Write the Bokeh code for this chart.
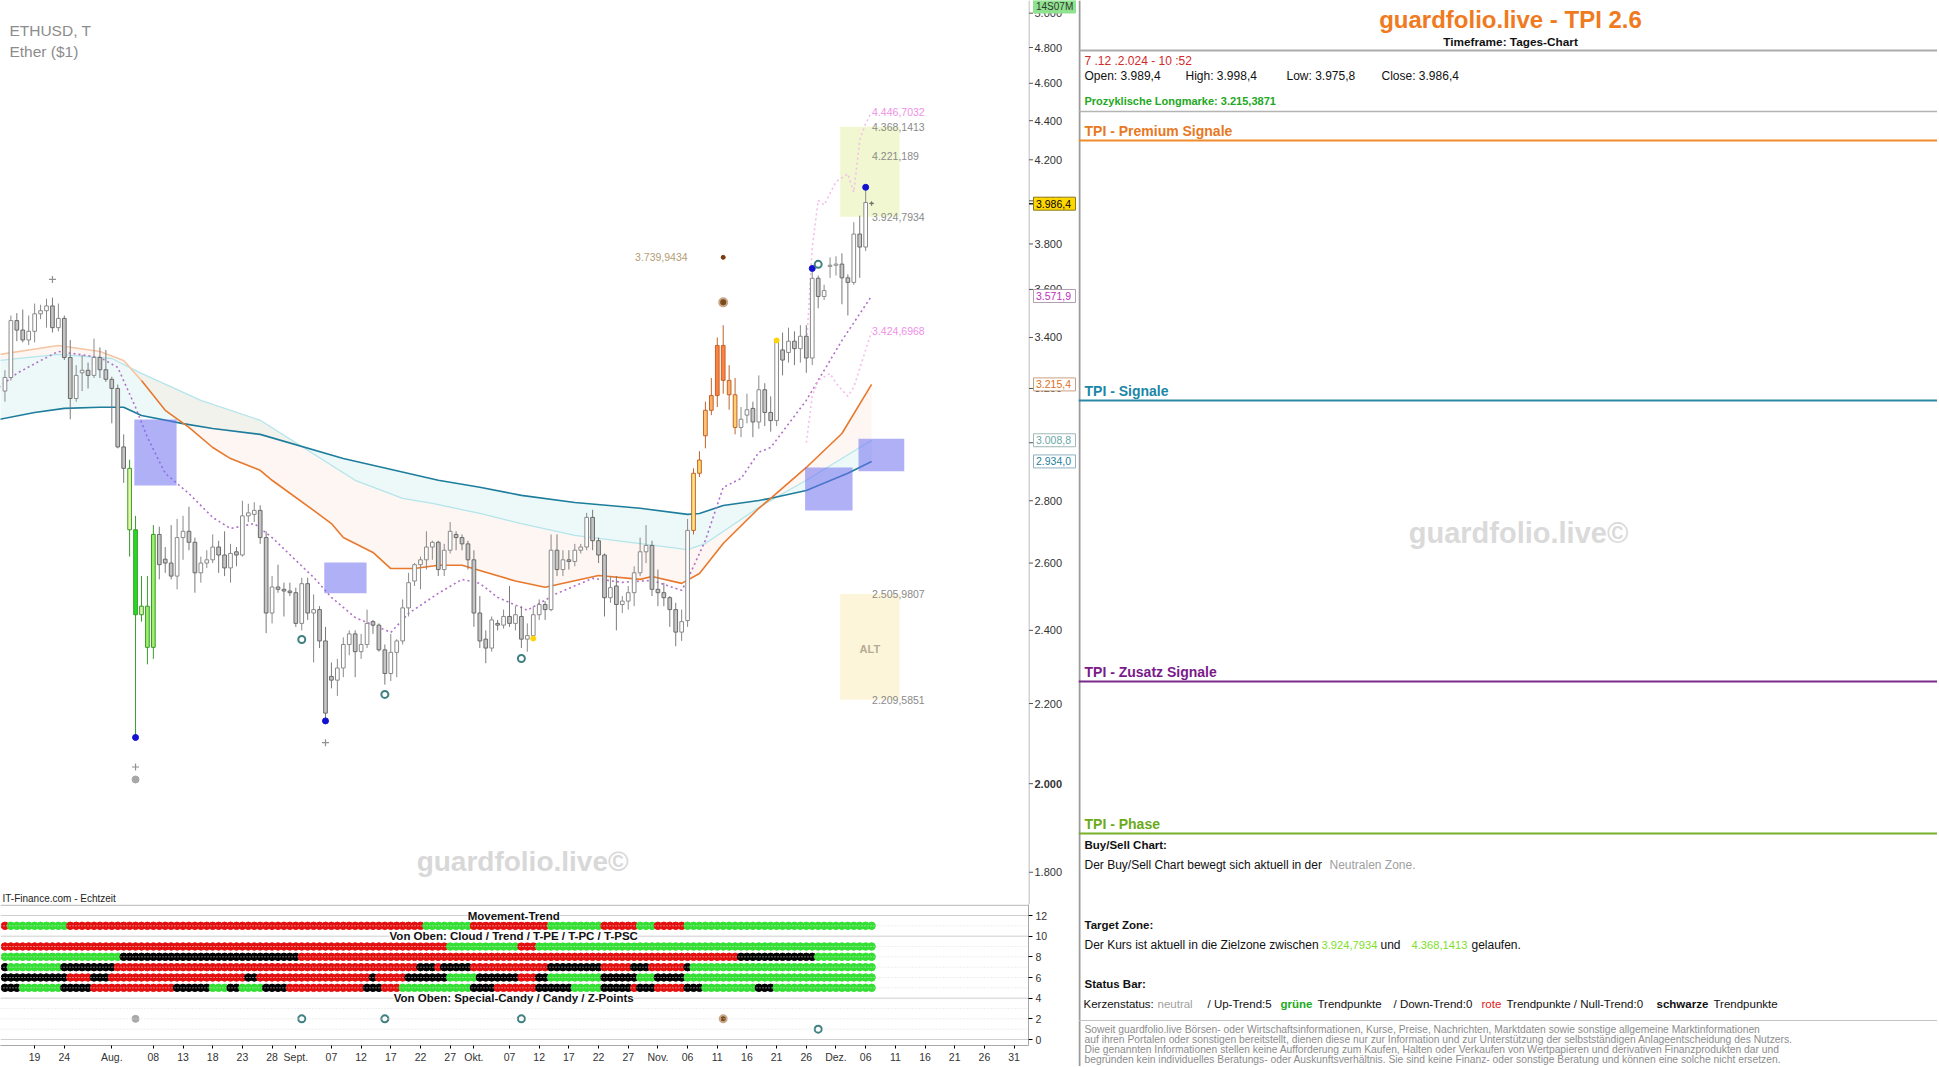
import numpy as np
import pandas as pd
from bokeh.plotting import figure
from bokeh.layouts import row, column
from bokeh.models import FixedTicker, Range1d, Label, Span, ColumnDataSource
from bokeh.core.properties import value
from bokeh.embed import file_html
from bokeh.resources import INLINE

FONT = "Liberation Sans"
DAY = 86400000.0

# ======================= DATA =======================
dates = pd.date_range("2024-07-14", "2024-12-07", freq="D")

opens = [3190, 3242, 3469, 3430, 3390, 3425, 3497, 3510, 3530, 3440,
         3478, 3320, 3162, 3260, 3270, 3250, 3320, 3272, 3235, 3200,
         2985, 2910, 2705, 2445, 2470, 2352, 2690, 2612, 2600, 2560,
         2680, 2700, 2665, 2570, 2600, 2610, 2650, 2625, 2585, 2635,
         2625, 2750, 2755, 2768, 2680, 2450, 2527, 2520, 2515, 2510,
         2420, 2537, 2450, 2460, 2370, 2272, 2262, 2295, 2360, 2390,
         2340, 2360, 2425, 2415, 2345, 2280, 2338, 2370, 2465, 2545,
         2595, 2610, 2650, 2665, 2580, 2640, 2690, 2680, 2660, 2610,
         2450, 2375, 2350, 2420, 2415, 2440, 2420, 2440, 2375, 2385,
         2445, 2475, 2460, 2640, 2580, 2610, 2605, 2640, 2650, 2745,
         2670, 2625, 2495, 2530, 2475, 2485, 2510, 2570, 2635, 2655,
         2520, 2510, 2495, 2460, 2395, 2428, 2703, 2893, 3025, 3118,
         3173, 3368, 3231, 3176, 3055, 3100, 3125, 3075, 3195, 3110,
         3080, 3350, 3340, 3385, 3355, 3405, 3318, 3648, 3570, 3700,
         3705, 3710, 3650, 3630, 3845, 3786, 3989.4]
highs = [3270, 3490, 3500, 3515, 3490, 3540, 3535, 3560, 3565, 3540,
         3490, 3390, 3290, 3330, 3300, 3395, 3360, 3350, 3245, 3215,
         3030, 2940, 2750, 2560, 2560, 2720, 2715, 2650, 2720, 2740,
         2750, 2780, 2680, 2620, 2640, 2690, 2670, 2700, 2660, 2650,
         2800, 2790, 2795, 2785, 2700, 2560, 2595, 2540, 2540, 2525,
         2555, 2555, 2505, 2470, 2410, 2310, 2320, 2380, 2400, 2400,
         2390, 2460, 2430, 2420, 2360, 2390, 2375, 2490, 2570, 2600,
         2620, 2700, 2670, 2670, 2660, 2730, 2700, 2690, 2670, 2640,
         2500, 2400, 2440, 2430, 2460, 2530, 2470, 2470, 2420, 2470,
         2490, 2485, 2690, 2690, 2640, 2640, 2660, 2660, 2760, 2770,
         2680, 2630, 2560, 2560, 2500, 2530, 2590, 2680, 2720, 2670,
         2580, 2540, 2500, 2480, 2460, 2740, 2910, 2970, 3150, 3240,
         3400, 3450, 3290, 3240, 3130, 3180, 3150, 3250, 3220, 3170,
         3390, 3420, 3440, 3425, 3450, 3450, 3690, 3660, 3620, 3740,
         3745, 3758, 3665, 3900, 3930, 4065, 3998.4]
lows = [3150, 3230, 3385, 3380, 3370, 3380, 3475, 3440, 3420, 3425,
        3310, 3085, 3150, 3190, 3200, 3240, 3240, 3225, 3070, 2980,
        2860, 2620, 2113, 2425, 2305, 2320, 2550, 2570, 2550, 2520,
        2610, 2640, 2510, 2540, 2585, 2600, 2570, 2560, 2540, 2590,
        2620, 2730, 2730, 2660, 2392, 2420, 2510, 2440, 2500, 2410,
        2400, 2430, 2310, 2350, 2155, 2240, 2220, 2270, 2330, 2270,
        2320, 2350, 2390, 2340, 2250, 2260, 2270, 2360, 2440, 2530,
        2520, 2580, 2610, 2560, 2560, 2630, 2640, 2640, 2580, 2410,
        2350, 2308, 2340, 2400, 2405, 2410, 2400, 2350, 2340, 2370,
        2430, 2430, 2455, 2560, 2560, 2580, 2590, 2630, 2640, 2640,
        2600, 2440, 2480, 2400, 2450, 2460, 2470, 2560, 2600, 2500,
        2470, 2470, 2410, 2355, 2370, 2410, 2690, 2880, 2980, 3100,
        3130, 3180, 3120, 3030, 3020, 3070, 3020, 3050, 3060, 3040,
        3060, 3250, 3300, 3290, 3300, 3260, 3290, 3520, 3555, 3650,
        3660, 3537, 3490, 3620, 3650, 3768, 3975.8]
closes = [3242, 3469, 3430, 3390, 3425, 3497, 3510, 3530, 3440, 3478,
          3320, 3162, 3250, 3270, 3250, 3320, 3272, 3235, 3200, 2985,
          2910, 2705, 2445, 2470, 2352, 2690, 2595, 2600, 2560, 2680,
          2700, 2665, 2570, 2600, 2610, 2650, 2625, 2585, 2630, 2625,
          2750, 2760, 2768, 2680, 2450, 2527, 2520, 2515, 2510, 2420,
          2537, 2450, 2460, 2370, 2175, 2262, 2295, 2360, 2390, 2340,
          2360, 2420, 2415, 2345, 2280, 2338, 2370, 2465, 2540, 2595,
          2610, 2650, 2665, 2580, 2640, 2700, 2680, 2660, 2610, 2450,
          2370, 2350, 2430, 2415, 2440, 2420, 2445, 2375, 2385, 2445,
          2475, 2460, 2640, 2580, 2610, 2605, 2640, 2650, 2745, 2670,
          2625, 2495, 2525, 2475, 2485, 2510, 2570, 2635, 2655, 2520,
          2510, 2495, 2460, 2395, 2425, 2703, 2893, 2939, 3118, 3173,
          3368, 3231, 3176, 3055, 3085, 3120, 3075, 3195, 3110, 3080,
          3385, 3310, 3385, 3355, 3405, 3318, 3648, 3570, 3595, 3705,
          3710, 3650, 3630, 3845, 3786, 3992, 3986.4]

# moving-average / cloud lines
teal_dates = ["2024-07-13", "2024-07-19", "2024-07-24", "2024-07-30", "2024-08-03", "2024-08-06",
              "2024-08-13", "2024-08-18", "2024-08-26", "2024-09-09", "2024-09-25", "2024-10-02",
              "2024-10-09", "2024-10-18", "2024-10-29", "2024-11-06", "2024-11-08", "2024-11-12",
              "2024-11-18", "2024-11-20", "2024-11-26", "2024-12-03", "2024-12-07"]
teal_vals = [3084, 3110, 3125, 3129, 3129, 3099, 3069, 3051, 3030, 2944, 2869, 2845,
             2818, 2794, 2775, 2755, 2758, 2784, 2801, 2808, 2834, 2893, 2934.0]

orange_dates = ["2024-07-13", "2024-07-23", "2024-07-30", "2024-08-03", "2024-08-06", "2024-08-10",
                "2024-08-14", "2024-08-18", "2024-08-21", "2024-08-26", "2024-08-28", "2024-09-04",
                "2024-09-07", "2024-09-09", "2024-09-14", "2024-09-17", "2024-09-21", "2024-09-25",
                "2024-09-29", "2024-10-02", "2024-10-08", "2024-10-13", "2024-10-22", "2024-10-29",
                "2024-10-31", "2024-11-05", "2024-11-08", "2024-11-12", "2024-11-18", "2024-11-20",
                "2024-11-26", "2024-12-02", "2024-12-07"]
orange_vals = [3332, 3368, 3344, 3308, 3230, 3118, 3055, 2983, 2944, 2903, 2869, 2768,
               2725, 2680, 2633, 2583, 2583, 2593, 2593, 2577, 2545, 2526, 2562, 2550,
               2559, 2538, 2568, 2661, 2775, 2808, 2913, 3033, 3215.4]

cyan_dates = ["2024-07-13", "2024-07-23", "2024-08-01", "2024-08-06", "2024-08-16", "2024-08-26",
              "2024-09-11", "2024-09-19", "2024-09-24", "2024-10-02", "2024-10-09", "2024-10-18",
              "2024-10-29", "2024-11-06", "2024-11-09", "2024-11-18", "2024-11-26", "2024-12-07"]
cyan_vals = [3308, 3332, 3316, 3258, 3155, 3081, 2869, 2808, 2791, 2758, 2725, 2687,
             2661, 2642, 2661, 2778, 2869, 3008.8]

trail_dates = ["2024-07-13", "2024-07-16", "2024-07-20", "2024-07-23", "2024-07-30", "2024-08-02",
               "2024-08-05", "2024-08-07", "2024-08-10", "2024-08-14", "2024-08-18", "2024-08-21",
               "2024-08-25", "2024-08-28", "2024-09-04", "2024-09-07", "2024-09-11", "2024-09-17",
               "2024-09-20", "2024-09-25", "2024-09-29", "2024-10-02", "2024-10-05", "2024-10-09",
               "2024-10-10", "2024-10-15", "2024-10-21", "2024-10-26", "2024-10-31", "2024-11-05",
               "2024-11-06", "2024-11-09", "2024-11-12", "2024-11-15", "2024-11-18", "2024-11-20",
               "2024-11-26", "2024-12-02", "2024-12-07"]
trail_vals = [3204, 3258, 3308, 3344, 3320, 3281, 3129, 3019, 2893, 2824, 2745, 2709,
              2725, 2680, 2556, 2496, 2437, 2394, 2449, 2508, 2550, 2538, 2496, 2466,
              2458, 2508, 2553, 2541, 2547, 2517, 2550, 2671, 2845, 2875, 2966, 2983,
              3155, 3388, 3571.9]

pink_up_dates = ["2024-11-26", "2024-11-27", "2024-11-28", "2024-11-29", "2024-12-01",
                 "2024-12-03", "2024-12-04", "2024-12-05", "2024-12-06", "2024-12-07"]
pink_up_vals = [3350, 3784, 4002, 3980, 4092, 4130, 4041, 4300, 4385, 4446.7032]
pink_lo_dates = ["2024-11-26", "2024-11-27", "2024-11-28", "2024-11-30", "2024-12-01",
                 "2024-12-03", "2024-12-04", "2024-12-07"]
pink_lo_vals = [3000, 3170, 3230, 3258, 3220, 3170, 3205, 3424.6968]

# signal boxes (purple)
box_left = ["2024-08-04 19:00", "2024-09-05 19:00", "2024-11-25 19:00", "2024-12-04 19:00"]
box_right = ["2024-08-11 22:00", "2024-09-12 22:00", "2024-12-03 19:00", "2024-12-12 12:00"]
box_low = [2851, 2508, 2768, 2900]
box_high = [3084, 2602, 2913, 3014]

# target zone and ALT zone
zone_left = ["2024-12-01 17:00", "2024-12-01 17:00"]
zone_right = ["2024-12-11 17:00", "2024-12-11 17:00"]
zone_low = [3924.7934, 2209.5851]
zone_high = [4368.1413, 2505.9807]

level_vals = [4446.7032, 4368.1413, 4221.189, 3924.7934, 3424.6968, 2505.9807, 2209.5851]
level_text = ["4.446,7032", "4.368,1413", "4.221,189", "3.924,7934", "3.424,6968", "2.505,9807", "2.209,5851"]
level_kind = ["pink", "gray", "gray", "gray", "pink", "gray", "gray"]

# markers
blue_dates = ["2024-08-05", "2024-09-06", "2024-11-27", "2024-12-06"]
blue_vals = [2113, 2155, 3691, 4065]
ring_dates = ["2024-09-02", "2024-09-16", "2024-10-09", "2024-11-28"]
ring_vals = [2374, 2224, 2321, 3709]
cross_dates = ["2024-07-22", "2024-08-05", "2024-09-06"]
cross_vals = [3643, 2040, 2100]
gray_dot_dates = ["2024-08-05"]
gray_dot_vals = [2010]
yellow_dates = ["2024-10-11", "2024-11-21"]
yellow_vals = [2377, 3388]
brown_small = ("2024-11-12", 3739.9434)
brown_big = ("2024-11-12", 3545)

# axis price tags
tag_vals = [3986.4, 3571.9, 3215.4, 3008.8, 2934.0]
tag_text = ["3.986,4", "3.571,9", "3.215,4", "3.008,8", "2.934,0"]

price_ticks = [1800, 2000, 2200, 2400, 2600, 2800, 3000, 3200, 3400, 3600, 3800,
               4000, 4200, 4400, 4600, 4800, 5000]
price_tick_labels = ["1.800", "2.000", "2.200", "2.400", "2.600", "2.800", "3.000", "3.200",
                     "3.400", "3.600", "3.800", "4.000", "4.200", "4.400", "4.600", "4.800", "5.000"]

x_tick_dates = ["2024-07-19", "2024-07-24", "2024-08-01", "2024-08-08", "2024-08-13", "2024-08-18",
                "2024-08-23", "2024-08-28", "2024-09-01", "2024-09-07", "2024-09-12", "2024-09-17",
                "2024-09-22", "2024-09-27", "2024-10-01", "2024-10-07", "2024-10-12", "2024-10-17",
                "2024-10-22", "2024-10-27", "2024-11-01", "2024-11-06", "2024-11-11", "2024-11-16",
                "2024-11-21", "2024-11-26", "2024-12-01", "2024-12-06", "2024-12-11", "2024-12-16",
                "2024-12-21", "2024-12-26", "2024-12-31"]
x_tick_labels = ["19", "24", "Aug.", "08", "13", "18", "23", "28", "Sept.", "07", "12", "17", "22",
                 "27", "Okt.", "07", "12", "17", "22", "27", "Nov.", "06", "11", "16", "21", "26",
                 "Dez.", "06", "11", "16", "21", "26", "31"]

# indicator rows (run lengths of daily states, Jul 14 - Dec 7): r=red, g=green, k=black
movement_runs = [("r", 1), ("g", 10), ("r", 60), ("g", 8), ("r", 13), ("g", 9), ("r", 6), ("g", 3), ("r", 5), ("g", 32)]
cloud_runs = [("r", 75), ("g", 12), ("r", 3), ("g", 57)]
trend_runs = [("g", 20), ("k", 30), ("r", 74), ("k", 13), ("g", 10)]
tpe_runs = [("k", 1), ("g", 9), ("k", 9), ("r", 51), ("k", 3), ("r", 1), ("k", 5), ("r", 13), ("k", 9),
            ("r", 5), ("k", 3), ("r", 6), ("k", 1), ("g", 31)]
tpc_runs = [("k", 11), ("r", 4), ("k", 3), ("r", 23), ("k", 2), ("r", 19), ("k", 1), ("r", 5), ("k", 7),
            ("g", 5), ("k", 7), ("r", 3), ("k", 2), ("g", 9), ("k", 6), ("g", 3), ("k", 5), ("g", 32)]
tpsc_runs = [("k", 3), ("g", 7), ("k", 5), ("r", 14), ("k", 6), ("g", 3), ("k", 2), ("g", 4), ("k", 4),
             ("r", 13), ("k", 3), ("r", 3), ("g", 12), ("k", 4), ("r", 7), ("k", 6), ("g", 5), ("k", 5),
             ("r", 1), ("k", 3), ("r", 5), ("k", 3), ("g", 9), ("k", 3), ("g", 17)]
row_levels = [11, 9, 8, 7, 6, 5]

zpoint_dates = ["2024-08-05", "2024-09-02", "2024-09-16", "2024-10-09", "2024-11-12", "2024-11-28"]
zpoint_levels = [2, 2, 2, 2, 2, 1]
zpoint_kind = ["gray", "ring", "ring", "ring", "brown", "ring"]
ind_ticks = [0, 2, 4, 6, 8, 10, 12]

# ======================= STYLE / BUILD =======================
def T(s):
    return pd.Timestamp(s)

def ms(s):
    return pd.Timestamp(s).value / 1e6

X0, X1 = T("2024-07-13 06:00"), T("2025-01-02 10:20")
YLO, YHI = 1732.3, 5076.0

def base_fig(**kw):
    p = figure(output_backend="svg", toolbar_location=None, min_border=0, **kw)
    p.outline_line_color = None
    p.background_fill_color = "white"
    p.border_fill_color = "white"
    p.xgrid.visible = False
    p.ygrid.visible = False
    return p

price = base_fig(x_axis_type="datetime", y_axis_type="log", x_range=Range1d(X0, X1),
                 y_range=Range1d(YLO, YHI), frame_width=1028, frame_height=904,
                 x_axis_location=None, y_axis_location=None)

# cloud fills
cd, td, od = list(pd.to_datetime(cyan_dates)), list(pd.to_datetime(teal_dates)), list(pd.to_datetime(orange_dates))
price.patch(cd + td[::-1], cyan_vals + teal_vals[::-1], fill_color="#dcf3f1", fill_alpha=0.5, line_color=None)
price.patch(cd + od[::-1], cyan_vals + orange_vals[::-1], fill_color="#fbe2d6", fill_alpha=0.32, line_color=None)

# zones
price.quad(left=pd.to_datetime(zone_left[:1]), right=pd.to_datetime(zone_right[:1]),
           bottom=zone_low[:1], top=zone_high[:1], fill_color="#eef7c9", fill_alpha=0.85, line_color=None)
price.quad(left=pd.to_datetime(zone_left[1:]), right=pd.to_datetime(zone_right[1:]),
           bottom=zone_low[1:], top=zone_high[1:], fill_color="#fdf5da", line_color=None)

# lines
price.line(cd, cyan_vals, line_color="#b3e5ec", line_width=1.3)
price.line(td, teal_vals, line_color="#1d7d9c", line_width=1.6)
price.line(od[:5], orange_vals[:5], line_color="#f5c6a6", line_width=1.6)
price.line(od[4:], orange_vals[4:], line_color="#e8782c", line_width=1.6)
price.line(pd.to_datetime(trail_dates), trail_vals, line_color="#b070c8", line_width=1.6, line_dash="2 3")
price.line(pd.to_datetime(pink_up_dates), pink_up_vals, line_color="#f5bde9", line_width=1.6, line_dash="2 3")
price.line(pd.to_datetime(pink_lo_dates), pink_lo_vals, line_color="#f5bde9", line_width=1.6, line_dash="2 3")

# purple boxes
price.quad(left=pd.to_datetime(box_left), right=pd.to_datetime(box_right), bottom=box_low, top=box_high,
           fill_color="#6f6ff0", fill_alpha=0.55, line_color=None)

# candles
special_fill = {"2024-08-04": "#e4f7a8", "2024-08-05": "#22dd22", "2024-08-06": "#d8f5a8",
                "2024-08-07": "#9af06a", "2024-08-08": "#9af06a",
                "2024-11-07": "#ffe480", "2024-11-08": "#ffd870", "2024-11-09": "#ffc478",
                "2024-11-10": "#ffb068", "2024-11-11": "#ff8040", "2024-11-12": "#ff8040",
                "2024-11-13": "#ffb068", "2024-11-14": "#ffd070"}
fills, lines_c, wicks = [], [], []
for d, o, c in zip(dates, opens, closes):
    key = d.strftime("%Y-%m-%d")
    if key in special_fill:
        fills.append(special_fill[key])
        col = "#3a9a2a" if d.month == 8 else "#c0642a"
        lines_c.append(col)
        wicks.append(col)
    elif c >= o:
        fills.append("#ffffff"); lines_c.append("#8a8a8a"); wicks.append("#8a8a8a")
    else:
        fills.append("#c4c4c4"); lines_c.append("#6a6a6a"); wicks.append("#7a7a7a")
src = ColumnDataSource(dict(x=dates, o=opens, h=highs, l=lows, c=closes,
                            top=np.maximum(opens, closes), bot=np.minimum(opens, closes),
                            fill=fills, line=lines_c, wick=wicks))
price.segment(x0="x", y0="l", x1="x", y1="h", line_color="wick", line_width=1, source=src)
price.vbar(x="x", width=0.62 * DAY, top="top", bottom="bot", fill_color="fill", line_color="line",
           line_width=1, source=src)

# markers
price.scatter(pd.to_datetime(blue_dates), blue_vals, size=6, fill_color="#1212d0", line_color="#1212d0")
price.scatter(pd.to_datetime(ring_dates), ring_vals, size=7, fill_color=None, line_color="#3f8080", line_width=2)
price.scatter(pd.to_datetime(cross_dates), cross_vals, marker="cross", size=7, line_color="#909090", line_width=1.2)
price.scatter(pd.to_datetime(gray_dot_dates), gray_dot_vals, size=7, fill_color="#a8a8a8", line_color="#a8a8a8")
price.scatter(pd.to_datetime(yellow_dates), yellow_vals, size=5, fill_color="#ffd400", line_color="#ffd400")
price.scatter([T(brown_small[0])], [brown_small[1]], size=4, fill_color="#7a3a10", line_color="#7a3a10")
price.scatter([T(brown_big[0])], [brown_big[1]], size=8, fill_color="#7a4a1a", line_color="#c8a888", line_width=2)

# level labels
lev_colors = ["#ef8fe8" if k == "pink" else "#8a8a8a" for k in level_kind]
price.text([T("2024-12-07 02:00")] * len(level_vals), level_vals, text=level_text, text_color=lev_colors,
           text_font=value(FONT), text_font_size="10.5px", text_baseline="middle", text_align="left")
price.text([T("2024-11-06 00:00")], [brown_small[1]], text=["3.739,9434"], text_color="#b39c76",
           text_font=value(FONT), text_font_size="10.5px", text_baseline="middle", text_align="right")
price.text([T("2024-12-06 17:00")], [2348], text=["ALT"], text_color="#b5ab92", text_font=value(FONT),
           text_font_size="11px", text_font_style="bold", text_baseline="middle", text_align="center")

# chart texts
price.text([T("2024-07-14 18:00")], [4898], text=["ETHUSD, T"], text_color="#8c8c8c", text_font=value(FONT),
           text_font_size="15.5px", text_baseline="middle")
price.text([T("2024-07-14 18:00")], [4777], text=["Ether ($1)"], text_color="#8c8c8c", text_font=value(FONT),
           text_font_size="15.5px", text_baseline="middle")
price.text([T("2024-10-09 05:00")], [1824], text=["guardfolio.live\u00a9"], text_color="#d8d8d8",
           text_font=value(FONT), text_font_size="28px", text_font_style="bold", text_baseline="middle",
           text_align="center")
price.text([T("2024-07-13 14:00")], [1745], text=["IT-Finance.com - Echtzeit"], text_color="#222222",
           text_font=value(FONT), text_font_size="10px", text_baseline="middle")

# ---------------- price axis strip (shares the log y scale) ----------------
pax = base_fig(y_axis_type="log", x_range=Range1d(0, 50), y_range=price.y_range,
               frame_width=50, frame_height=904, x_axis_location=None, y_axis_location=None)
n = len(price_ticks)
pax.segment(x0=[0.5], y0=[YLO], x1=[0.5], y1=[YHI], line_color="#a8a8a8", line_width=1)
pax.segment(x0=[0.5] * n, y0=price_ticks, x1=[4.5] * n, y1=price_ticks, line_color="#555555", line_width=1)
pax.text([6] * n, price_ticks, text=price_tick_labels, text_font=value(FONT), text_font_size="11px",
         text_color="#333333", text_baseline="middle",
         text_font_style=["bold" if t == 2000 else "normal" for t in price_ticks])
tag_colors = ["#000000", "#c030c0", "#e07020", "#6aa6a6", "#1f7fa0"]
tag_bg = ["#ffd700", "#ffffff", "#ffffff", "#ffffff", "#ffffff"]
tag_border = ["#8a7a20", "#b0a0b0", "#c8a080", "#a0b8b8", "#90b0c0"]
pax.segment(x0=[0.5], y0=[tag_vals[0]], x1=[5], y1=[tag_vals[0]], line_color="#222222", line_width=1.5)
pax.rect(x=[26] * len(tag_vals), y=tag_vals, width=42, height=13, height_units="screen",
         fill_color=tag_bg, line_color=tag_border, line_width=1)
pax.text([7.5] * len(tag_vals), tag_vals, text=tag_text, text_color=tag_colors, text_font=value(FONT),
         text_font_size="10.5px", text_baseline="middle")
pax.rect(x=[26], y=[5040], width=42, height=13, height_units="screen", fill_color="#8fe38f", line_color="#8fe38f")
pax.text([7.5], [5040], text=["14S07M"], text_color="#333333", text_font=value(FONT),
         text_font_size="10px", text_baseline="middle")

# ---------------- indicator panel ----------------
ind = base_fig(x_axis_type="datetime", x_range=price.x_range, y_range=Range1d(-0.58, 13.065),
               frame_width=1028, frame_height=141, y_axis_location="right", min_border_right=50)
ind.yaxis.ticker = FixedTicker(ticks=ind_ticks)
ind.yaxis.minor_tick_line_color = None
ind.yaxis.axis_line_color = "#a8a8a8"
ind.yaxis.major_tick_in = 0
ind.yaxis.major_tick_out = 4
ind.yaxis.major_label_standoff = 3
ind.yaxis.major_label_text_font = FONT
ind.yaxis.major_label_text_font_size = "10.5px"
ind.yaxis.major_label_text_color = "#333333"
xt = [ms(d) for d in x_tick_dates]
ind.xaxis.ticker = FixedTicker(ticks=xt)
ind.xaxis.major_label_overrides = {t: l for t, l in zip(xt, x_tick_labels)}
ind.xaxis.minor_tick_line_color = None
ind.xaxis.axis_line_color = "#a8a8a8"
ind.xaxis.major_tick_in = 0
ind.xaxis.major_tick_out = 3
ind.xaxis.major_label_standoff = 2
ind.xaxis.major_label_text_font = FONT
ind.xaxis.major_label_text_font_size = "10.5px"
ind.xaxis.major_label_text_color = "#333333"

ind.add_layout(Span(location=13.0, dimension="width", line_color="#a8a8a8", line_width=1))
for lv in [1, 2, 3, 5, 6, 7, 8, 9, 11]:
    ind.add_layout(Span(location=lv, dimension="width", line_color="#dedede", line_width=1, line_dash="1 2"))
for lv in [12, 10, 4, 0]:
    ind.add_layout(Span(location=lv, dimension="width", line_color="#cfcfcf", line_width=1))

state_color = {"r": "#e41010", "g": "#33e033", "k": "#000000"}
for runs, lv in zip([movement_runs, cloud_runs, trend_runs, tpe_runs, tpc_runs, tpsc_runs], row_levels):
    states = "".join(s * k for s, k in runs)
    cols = [state_color[s] for s in states]
    ind.scatter(dates[:len(states)], [lv] * len(states), size=7.5, fill_color=cols, line_color=cols)

for kind, fc, lc in [("gray", "#a8a8a8", "#a8a8a8"), ("ring", None, "#3f8080"), ("brown", "#7a4a1a", "#c8a888")]:
    xs = [T(d) for d, k in zip(zpoint_dates, zpoint_kind) if k == kind]
    ys = [l for l, k in zip(zpoint_levels, zpoint_kind) if k == kind]
    ind.scatter(xs, ys, size=7, fill_color=fc, line_color=lc, line_width=2 if kind != "gray" else 1)

mid = ms("2024-10-07 17:00")
for y, t in [(12, "Movement-Trend"), (10, "Von Oben: Cloud / Trend / T-PE / T-PC / T-PSC"),
             (4, "Von Oben: Special-Candy / Candy / Z-Points")]:
    ind.add_layout(Label(x=mid, y=y, text=t, text_font=FONT, text_font_size="11.5px", text_font_style="bold",
                         text_align="center", text_baseline="middle", text_color="#111111",
                         background_fill_color="white"))

# ---------------- right information panel ----------------
panel = base_fig(x_range=Range1d(1078, 1937), y_range=Range1d(1066, 0), frame_width=859, frame_height=1066,
                 x_axis_location=None, y_axis_location=None)

def ptxt(x, y, s, size="12px", color="#111111", bold=False, align="left"):
    panel.text([x], [y], text=[s], text_color=color, text_font=value(FONT), text_font_size=size,
               text_font_style="bold" if bold else "normal", text_align=align, text_baseline="middle")

def hline(y, color, w):
    panel.segment(x0=[1078], y0=[y], x1=[1937], y1=[y], line_color=color, line_width=w)

panel.segment(x0=[1079], y0=[0], x1=[1079], y1=[1066], line_color="#9a9a9a", line_width=2)
ptxt(1510, 19, "guardfolio.live - TPI 2.6", size="24px", color="#f07a1e", bold=True, align="center")
ptxt(1510, 41, "Timeframe: Tages-Chart", size="11.8px", bold=True, align="center")
hline(50, "#ababab", 2)
ptxt(1084, 60, "7 .12 .2.024 - 10 :52", color="#d22a2a")
ptxt(1084, 75, "Open:  3.989,4")
ptxt(1185, 75, "High:  3.998,4")
ptxt(1286, 75, "Low:  3.975,8")
ptxt(1381, 75, "Close: 3.986,4")
ptxt(1084, 100, "Prozyklische Longmarke:  3.215,3871", size="11px", color="#22a822", bold=True)
hline(111, "#b4b4b4", 1.5)
ptxt(1084, 130, "TPI - Premium Signale", size="14px", color="#e8781e", bold=True)
hline(140, "#f08a2a", 2)
ptxt(1084, 390, "TPI - Signale", size="14px", color="#1a86a6", bold=True)
hline(400, "#2a88a6", 2)
ptxt(1518, 532, "guardfolio.live\u00a9", size="29px", color="#dadada", bold=True, align="center")
ptxt(1084, 671, "TPI - Zusatz Signale", size="14px", color="#7a1a8a", bold=True)
hline(681, "#7a2a8a", 2)
ptxt(1084, 823, "TPI - Phase", size="14px", color="#6aaa1a", bold=True)
hline(833, "#78b02a", 2)
ptxt(1084, 844, "Buy/Sell Chart:", size="11.5px", bold=True)
ptxt(1084, 864, "Der Buy/Sell Chart bewegt sich aktuell in der")
ptxt(1329, 864, "Neutralen Zone.", color="#a0a0a0")
ptxt(1084, 924, "Target Zone:", size="11.5px", bold=True)
ptxt(1084, 944, "Der Kurs ist aktuell in die Zielzone zwischen")
ptxt(1321, 944, "3.924,7934", size="11.2px", color="#7ee02a")
ptxt(1380, 944, "und")
ptxt(1411, 944, "4.368,1413", size="11.2px", color="#7ee02a")
ptxt(1471, 944, "gelaufen.")
ptxt(1084, 983, "Status Bar:", size="11.5px", bold=True)
for x, s, c, b in [(1083, "Kerzenstatus:", "#111111", False), (1157, "neutral", "#a0a0a0", False),
                   (1207, "/ Up-Trend:5", "#111111", False), (1280, "grüne", "#22aa22", True),
                   (1317, "Trendpunkte", "#111111", False), (1393, "/ Down-Trend:0", "#111111", False),
                   (1481, "rote", "#e02020", False), (1506, "Trendpunkte / Null-Trend:0", "#111111", False),
                   (1656, "schwarze", "#111111", True), (1713, "Trendpunkte", "#111111", False)]:
    ptxt(x, 1003, s, size="11.5px", color=c, bold=b)
hline(1020, "#c4c4c4", 1)
disclaimer = [
    "Soweit guardfolio.live Börsen- oder Wirtschaftsinformationen, Kurse, Preise, Nachrichten, Marktdaten sowie sonstige allgemeine Marktinformationen",
    "auf ihren Portalen oder sonstigen bereitstellt, dienen diese nur zur Information und zur Unterstützung der selbstständigen Anlageentscheidung des Nutzers.",
    "Die genannten Informationen stellen keine Aufforderung zum Kaufen, Halten oder Verkaufen von Wertpapieren und derivativen Finanzprodukten dar und",
    "begründen kein individuelles Beratungs- oder Auskunftsverhältnis. Sie sind keine Finanz- oder sonstige Beratung und können eine solche nicht ersetzen.",
]
for i, line in enumerate(disclaimer):
    ptxt(1084, 1029 + 10 * i, line, size="10.3px", color="#8c8c8c")

layout = row(column(row(price, pax), ind), panel)
open("out.html", "w").write(file_html(layout, INLINE, title="ETHUSD"))
